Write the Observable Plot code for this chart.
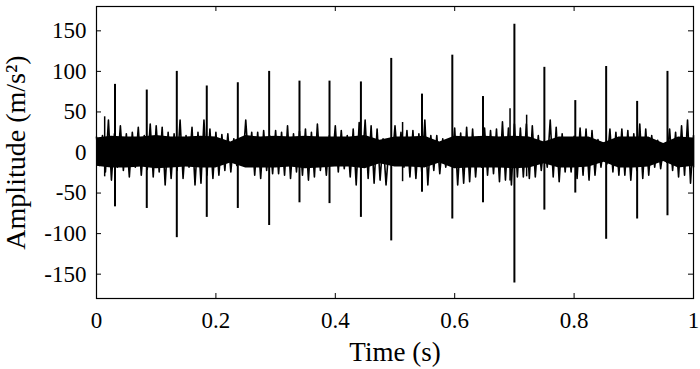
<!DOCTYPE html>
<html>
<head>
<meta charset="utf-8">
<script src="https://cdn.jsdelivr.net/npm/d3@7"></script>
<script src="https://cdn.jsdelivr.net/npm/@observablehq/plot@0.6"></script>
<style>
  html, body { margin: 0; padding: 0; background: #fff; }
  svg { display: block; }
</style>
</head>
<body>
<div id="chart"></div>
<script>
// Outer envelope of the dense vibration band, every 0.01 s
const sampleTimes = [0,0.01,0.02,0.03,0.04,0.05,0.06,0.07,0.08,0.09,0.10,0.11,0.12,0.13,0.14,0.15,0.16,0.17,0.18,0.19,0.20,0.21,0.22,0.23,0.24,0.25,0.26,0.27,0.28,0.29,0.30,0.31,0.32,0.33,0.34,0.35,0.36,0.37,0.38,0.39,0.40,0.41,0.42,0.43,0.44,0.45,0.46,0.47,0.48,0.49,0.50,0.51,0.52,0.53,0.54,0.55,0.56,0.57,0.58,0.59,0.60,0.61,0.62,0.63,0.64,0.65,0.66,0.67,0.68,0.69,0.70,0.71,0.72,0.73,0.74,0.75,0.76,0.77,0.78,0.79,0.80,0.81,0.82,0.83,0.84,0.85,0.86,0.87,0.88,0.89,0.90,0.91,0.92,0.93,0.94,0.95,0.96,0.97,0.98,0.99,1.00];
const upperEnv = [19,21,40,23,33,23,25,31,21,35,33,31,25,23,40,21,31,25,40,29,25,22,23,17,13,40,25,25,27,21,27,25,33,23,26,29,25,35,17,21,33,27,21,29,37,40,33,29,17,9,33,25,27,27,23,40,21,21,17,7,30,24,31,29,18,30,27,29,38,30,35,30,35,33,21,14,40,31,23,18,20,30,29,27,16,12,29,25,29,27,23,35,29,21,15,9,29,25,33,40,21];
const lowerEnv = [-16,-24,-34,-18,-22,-30,-18,-28,-21,-30,-24,-40,-32,-22,-32,-18,-40,-38,-28,-32,-28,-22,-24,-16,-14,-16,-28,-32,-22,-26,-26,-28,-32,-24,-28,-34,-30,-22,-28,-14,-24,-20,-30,-40,-18,-32,-38,-34,-40,-14,-14,-18,-30,-32,-26,-40,-22,-26,-18,-12,-40,-38,-36,-30,-18,-28,-26,-36,-34,-40,-30,-30,-32,-30,-22,-18,-30,-36,-24,-24,-32,-28,-34,-28,-18,-14,-24,-28,-28,-34,-22,-32,-28,-18,-20,-12,-22,-30,-28,-38,-18];

// Solid dark core of the band, read every 0.025 s
const coreTimes = [0,0.025,0.05,0.075,0.10,0.125,0.15,0.175,0.20,0.225,0.25,0.275,0.30,0.325,0.35,0.375,0.40,0.425,0.45,0.475,0.50,0.525,0.55,0.575,0.60,0.625,0.65,0.675,0.70,0.725,0.75,0.775,0.80,0.825,0.85,0.875,0.90,0.925,0.95,0.975,1.00];
const coreHigh = [18,20,19,19,21,19,19,20,19,13,21,19,20,19,20,19,19,19,21,15,19,19,20,13,20,19,20,19,20,19,13,19,19,19,12,19,19,19,11,19,18];
const coreLow  = [-17,-19,-19,-18,-20,-19,-18,-19,-19,-13,-19,-19,-19,-18,-20,-19,-18,-18,-20,-14,-18,-18,-19,-13,-20,-19,-19,-19,-20,-19,-14,-19,-19,-18,-12,-19,-19,-18,-11,-19,-17];

// Periodic impulses
const spikeTimes = [0.031,0.0842,0.1345,0.1847,0.2367,0.2892,0.340,0.3903,0.4429,0.4937,0.5452,0.596,0.6474,0.700,0.7502,0.802,0.8537,0.9056,0.9564];
const spikeHigh  = [84,77,100,82,86,100,88,88,87,116,72,120,69,158,105,64,106,63,100];
const spikeLow   = [-67,-69,-105,-80,-69,-90,-62,-63,-80,-109,-49,-82,-62,-161,-71,-50,-107,-82,-78];

// Smaller secondary spikes
const minorTimes = [0.0137,0.5127,0.6927,0.7205];
const minorHigh  = [44,37,54,46];
const minorLow   = [-30,-36,-35,-30];

const xTicks = [0,0.2,0.4,0.6,0.8,1];
const yTicks = [-150,-100,-50,0,50,100,150];
const xTitle = "Time (s)";
const yTitle = "Amplitude (m/s²)";

// Trace: each read sample contributes its upper then its lower envelope value
const trace = [];
sampleTimes.forEach((t, i) => {
  trace.push({t, v: upperEnv[i]});
  if (i < sampleTimes.length - 1) trace.push({t: t + 0.005, v: lowerEnv[i]});
  else trace.push({t, v: lowerEnv[i]});
});
const core = coreTimes.map((t, i) => ({t, hi: coreHigh[i], lo: coreLow[i]}));
const spikes = spikeTimes.map((t, i) => ({t, hi: spikeHigh[i], lo: spikeLow[i]}));
const minors = minorTimes.map((t, i) => ({t, hi: minorHigh[i], lo: minorLow[i]}));

const W = 700, H = 369, mL = 96, mR = 7, mT = 6, mB = 71;
const fw = W - mL - mR, fh = H - mT - mB, tk = 5;

const chart = Plot.plot({
  width: W, height: H,
  marginLeft: mL, marginRight: mR, marginTop: mT, marginBottom: mB,
  style: {fontFamily: "'Liberation Serif', 'Times New Roman', serif", fontSize: "23px", color: "#000", background: "#fff"},
  x: {domain: [0, 1]},
  y: {domain: [-180, 180]},
  marks: [
    Plot.areaY(core, {x: "t", y1: "lo", y2: "hi", fill: "#000"}),
    Plot.line(trace, {x: "t", y: "v", stroke: "#000", strokeWidth: 1.6}),
    Plot.ruleX(spikes, {x: "t", y1: "lo", y2: "hi", stroke: "#000", strokeWidth: 2}),
    Plot.ruleX(minors, {x: "t", y1: "lo", y2: "hi", stroke: "#000", strokeWidth: 1.5}),
    Plot.frame({stroke: "#000", strokeWidth: 1.2}),
    // inward ticks on all four sides
    Plot.tickX(xTicks, {x: d => d, insetTop: fh - tk, stroke: "#000"}),
    Plot.tickX(xTicks, {x: d => d, insetBottom: fh - tk, stroke: "#000"}),
    Plot.tickY(yTicks, {y: d => d, insetRight: fw - tk, stroke: "#000"}),
    Plot.tickY(yTicks, {y: d => d, insetLeft: fw - tk, stroke: "#000"}),
    Plot.axisX({ticks: xTicks, tickSize: 0, tickPadding: 13, tickFormat: d => String(d), label: null}),
    Plot.axisY({ticks: yTicks, tickSize: 0, tickPadding: 10, tickFormat: d => String(d), label: null}),
    Plot.text([xTitle], {frameAnchor: "bottom", lineAnchor: "bottom", dy: 62, fontSize: 27}),
    Plot.text([yTitle], {frameAnchor: "left", textAnchor: "middle", rotate: -90, lineAnchor: "middle", dx: -80, fontSize: 28})
  ]
});
document.getElementById("chart").appendChild(chart);
</script>
</body>
</html>
